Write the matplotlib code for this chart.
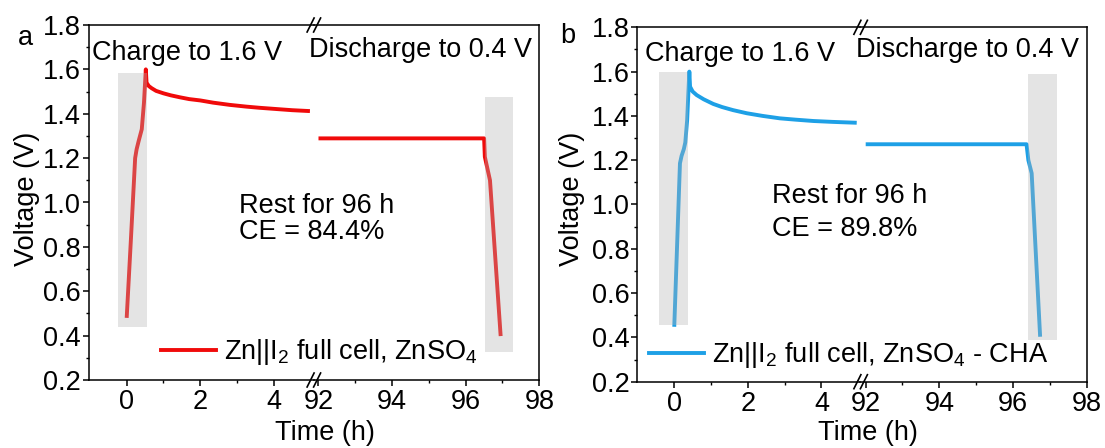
import matplotlib
matplotlib.use("Agg")
import matplotlib.pyplot as plt
from matplotlib.ticker import FixedLocator, MultipleLocator, FormatStrFormatter
from matplotlib.lines import Line2D

plt.rcParams['font.family'] = ['Liberation Sans', 'DejaVu Sans']
plt.rcParams['mathtext.fontset'] = 'custom'
plt.rcParams['mathtext.rm'] = 'Liberation Sans'
plt.rcParams['mathtext.it'] = 'Liberation Sans:italic'
plt.rcParams['mathtext.bf'] = 'Liberation Sans:bold'

# ---------------- data ----------------
# Panel a : ZnSO4
a_left_t = [0.0, 0.12, 0.23, 0.27, 0.33, 0.41, 0.47, 0.52, 0.54, 0.60, 0.68, 0.80, 1.0, 1.2, 1.45, 1.7,
            2.0, 2.35, 2.8, 3.26, 3.6, 4.17, 4.5, 4.98]
a_left_v = [0.48, 0.85, 1.20, 1.24, 1.28, 1.33, 1.45, 1.60, 1.54, 1.525, 1.515, 1.503, 1.492, 1.483, 1.474,
            1.466, 1.46, 1.45, 1.44, 1.432, 1.427, 1.42, 1.416, 1.412]
a_right_t = [92.0, 96.50, 96.52, 96.66, 96.95]
a_right_v = [1.289, 1.289, 1.206, 1.10, 0.398]
a_box1 = [-0.23, 0.56, 0.44, 1.585]   # t0, t1, v0, v1
a_box2 = [96.52, 97.29, 0.328, 1.474]

# Panel b : ZnSO4 - CHA
b_left_t = [0.0, 0.155, 0.20, 0.26, 0.30, 0.35, 0.41, 0.43, 0.50, 0.61, 0.80, 1.06, 1.3, 1.6, 1.97, 2.4,
            2.87, 3.3, 3.78, 4.3, 4.96]
b_left_v = [0.448, 1.186, 1.22, 1.25, 1.28, 1.38, 1.60, 1.532, 1.51, 1.494, 1.475, 1.454, 1.44, 1.426,
            1.412, 1.40, 1.389, 1.383, 1.377, 1.373, 1.369]
b_right_t = [92.0, 96.37, 96.42, 96.51, 96.74]
b_right_v = [1.272, 1.272, 1.20, 1.141, 0.403]
b_box1 = [-0.41, 0.38, 0.456, 1.60]
b_box2 = [96.42, 97.19, 0.388, 1.588]

y_ticks = [0.2, 0.4, 0.6, 0.8, 1.0, 1.2, 1.4, 1.6, 1.8]
x_left_ticks = [0, 2, 4]
x_left_minor = [1, 3]
x_right_ticks = [92, 94, 96, 98]
x_right_minor = [93, 95, 97]

red = '#F00A0A'
blue = '#1EA0E6'
FS = 19.5
LW = 2.8

W, H = 1105, 448
fig = plt.figure(figsize=(W / 100, H / 100), dpi=100)


def fx(px):
    return px / W


def fy(py):
    return (H - py) / H


def make_panel(x0, xbrk, x1, ytop, ybot, left_lim, right_lim):
    axL = fig.add_axes([fx(x0), fy(ybot), fx(xbrk) - fx(x0), fy(ytop) - fy(ybot)])
    axR = fig.add_axes([fx(xbrk), fy(ybot), fx(x1) - fx(xbrk), fy(ytop) - fy(ybot)])
    for ax in (axL, axR):
        ax.set_facecolor('none')
        ax.set_ylim(0.2, 1.8)
        for s in ax.spines.values():
            s.set_linewidth(1.1)
        ax.tick_params(axis='both', which='major', direction='out', length=4.5, width=1.1,
                       labelsize=FS, pad=2)
        ax.tick_params(axis='both', which='minor', direction='out', length=2.5, width=1.0)
    axL.set_xlim(*left_lim)
    axR.set_xlim(*right_lim)
    axL.spines['right'].set_visible(False)
    axR.spines['left'].set_visible(False)
    axL.xaxis.set_major_locator(FixedLocator(x_left_ticks))
    axL.xaxis.set_minor_locator(FixedLocator(x_left_minor))
    axR.xaxis.set_major_locator(FixedLocator(x_right_ticks))
    axR.xaxis.set_minor_locator(FixedLocator(x_right_minor))
    axL.yaxis.set_major_locator(FixedLocator(y_ticks))
    axL.yaxis.set_minor_locator(MultipleLocator(0.1))
    axL.yaxis.set_major_formatter(FormatStrFormatter('%.1f'))
    axL.tick_params(axis='y', which='major', pad=1)
    axR.tick_params(axis='y', which='both', left=False, right=False, labelleft=False)
    axL.tick_params(axis='y', which='both', right=False)
    axL.tick_params(axis='x', which='both', top=False)
    axR.tick_params(axis='x', which='both', top=False)
    # break marks
    for yb in (ytop, ybot):
        for xc in (xbrk - 3.0, xbrk + 3.5):
            fig.add_artist(Line2D([fx(xc - 3.5), fx(xc + 3.5)], [fy(yb + 7), fy(yb - 7)],
                                  color='black', lw=1.2, transform=fig.transFigure))
    return axL, axR


def draw(axL, axR, lt, lv, rt, rv, box1, box2, color):
    axL.plot(lt, lv, color=color, lw=LW, solid_capstyle='butt', solid_joinstyle='round', zorder=2)
    axR.plot(rt, rv, color=color, lw=LW, solid_capstyle='butt', solid_joinstyle='round', zorder=2)
    axL.fill_between(box1[:2], box1[2], box1[3], color='#B4B4B4', alpha=0.35, lw=0, zorder=3)
    axR.fill_between(box2[:2], box2[2], box2[3], color='#B4B4B4', alpha=0.35, lw=0, zorder=3)


# ---------------- panel a ----------------
aL, aR = make_panel(88.6, 313.6, 539.3, 25.0, 380.0, (-1.035, 5.08), (91.867, 98))
draw(aL, aR, a_left_t, a_left_v, a_right_t, a_right_v, a_box1, a_box2, red)
aL.text(-0.94, 1.642, 'Charge to 1.6 V', fontsize=FS, ha='left', va='baseline')
aR.text(91.74, 1.654, 'Discharge to 0.4 V', fontsize=FS, ha='left', va='baseline')
aL.text(3.04, 0.954, 'Rest for 96 h', fontsize=FS, ha='left', va='baseline')
aL.text(3.04, 0.836, 'CE = 84.4%', fontsize=FS, ha='left', va='baseline')
fig.text(fx(25), fy(38), 'a', fontsize=FS, ha='center', va='center')
fig.text(fx(27), fy(199), 'Voltage (V)', fontsize=FS, rotation=90, ha='center', va='center')
fig.text(fx(325), fy(433), 'Time (h)', fontsize=FS, ha='center', va='center')
hA = Line2D([], [], color=red, lw=LW)
fig.legend(handles=[hA], labels=['Zn||$\\mathregular{I_2}$ full cell, Zn$\\mathregular{SO_4}$'],
           loc='center left', bbox_to_anchor=(fx(160.7), fy(352)), bbox_transform=fig.transFigure,
           frameon=False, fontsize=FS, handlelength=2.05, handletextpad=0.28,
           borderpad=0, borderaxespad=0)

# ---------------- panel b ----------------
bL, bR = make_panel(637.1, 860.4, 1086.5, 27.3, 381.7, (-1.01, 5.06), (91.856, 98))
draw(bL, bR, b_left_t, b_left_v, b_right_t, b_right_v, b_box1, b_box2, blue)
bL.text(-0.80, 1.649, 'Charge to 1.6 V', fontsize=FS, ha='left', va='baseline')
bR.text(91.75, 1.665, 'Discharge to 0.4 V', fontsize=FS, ha='left', va='baseline')
bL.text(2.65, 1.005, 'Rest for 96 h', fontsize=FS, ha='left', va='baseline')
bL.text(2.65, 0.856, 'CE = 89.8%', fontsize=FS, ha='left', va='baseline')
fig.text(fx(568), fy(36), 'b', fontsize=FS, ha='center', va='center')
fig.text(fx(572), fy(199), 'Voltage (V)', fontsize=FS, rotation=90, ha='center', va='center')
fig.text(fx(868), fy(433), 'Time (h)', fontsize=FS, ha='center', va='center')
hB = Line2D([], [], color=blue, lw=LW)
fig.legend(handles=[hB], labels=['Zn||$\\mathregular{I_2}$ full cell, Zn$\\mathregular{SO_4}$ - CHA'],
           loc='center left', bbox_to_anchor=(fx(648.6), fy(355)), bbox_transform=fig.transFigure,
           frameon=False, fontsize=FS, handlelength=2.05, handletextpad=0.28,
           borderpad=0, borderaxespad=0)

fig.savefig('out.png', dpi=100, facecolor='white')
